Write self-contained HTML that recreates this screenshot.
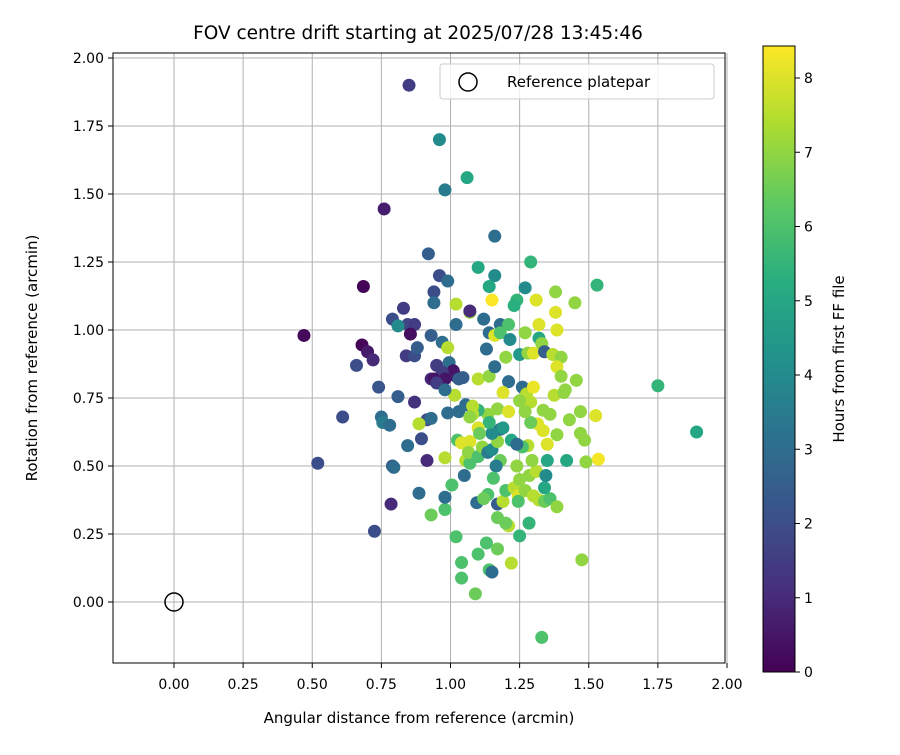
<!DOCTYPE html>
<html><head><meta charset="utf-8">
<style>
html,body{margin:0;padding:0;background:#fff;}
svg text{font-family:"DejaVu Sans","Liberation Sans",sans-serif;fill:#000;}
</style></head>
<body>
<svg id="chart" width="900" height="750" xmlns="http://www.w3.org/2000/svg">
<defs>
<linearGradient id="viridis" x1="0" y1="1" x2="0" y2="0">
<stop offset="0" stop-color="#440154"/><stop offset="0.125" stop-color="#472d7b"/>
<stop offset="0.25" stop-color="#3b528b"/><stop offset="0.375" stop-color="#2c728e"/>
<stop offset="0.5" stop-color="#21918c"/><stop offset="0.625" stop-color="#28ae80"/>
<stop offset="0.75" stop-color="#5ec962"/><stop offset="0.875" stop-color="#addc30"/>
<stop offset="1" stop-color="#fde725"/>
</linearGradient>
<clipPath id="plotclip"><rect x="113" y="53" width="612" height="610"/></clipPath>
</defs>
<text x="418" y="39" font-size="18.5" text-anchor="middle">FOV centre drift starting at 2025/07/28 13:45:46</text>
<g id="grid"></g>
<g id="points" clip-path="url(#plotclip)"></g>
<rect x="113" y="53" width="612" height="610" fill="none" stroke="#000" stroke-width="1"/>
<g id="xticks"></g>
<g id="yticks"></g>
<text x="419" y="723" font-size="15" text-anchor="middle">Angular distance from reference (arcmin)</text>
<text transform="translate(37,358) rotate(-90)" font-size="15" text-anchor="middle">Rotation from reference (arcmin)</text>
<g>
<rect x="440" y="64" width="274" height="35" rx="3" fill="#fff" fill-opacity="0.8" stroke="#ccc"/>
<circle cx="468" cy="82" r="9" fill="none" stroke="#000" stroke-width="1.5"/>
<text x="507" y="87" font-size="15">Reference platepar</text>
</g>
<g>
<rect x="763" y="46" width="32" height="626" fill="url(#viridis)" stroke="#000" stroke-width="1"/>
<g id="cticks"></g>
<text transform="translate(844,359) rotate(-90)" font-size="15" text-anchor="middle">Hours from first FF file</text>
</g>
</svg>
<script>
const xTicks=[0,0.25,0.5,0.75,1.0,1.25,1.5,1.75,2.0];
const xTickLabels=["0.00","0.25","0.50","0.75","1.00","1.25","1.50","1.75","2.00"];
const yTicks=[0,0.25,0.5,0.75,1.0,1.25,1.5,1.75,2.0];
const yTickLabels=["0.00","0.25","0.50","0.75","1.00","1.25","1.50","1.75","2.00"];
const cTicks=[0,1,2,3,4,5,6,7,8];
const refPoint=[0,0];
const xVals=[0.85,0.96,0.98,1.06,0.76,1.16,0.92,0.96,0.99,1.10,1.16,1.29,1.53,0.685,1.14,1.27,0.94,0.94,1.02,1.15,1.24,1.23,1.31,1.38,1.45,0.83,0.79,0.845,0.81,0.87,1.07,1.07,1.12,1.02,0.47,0.855,0.93,0.97,0.99,1.14,1.16,1.18,1.18,1.21,1.27,1.32,1.38,1.385,1.32,1.33,1.13,1.215,0.68,0.70,0.72,0.66,0.84,0.87,0.88,0.95,0.995,1.01,0.97,0.93,0.94,1.02,1.045,1.10,1.14,1.20,1.25,1.28,1.30,1.34,1.37,1.40,1.385,1.40,1.415,1.455,1.375,1.16,1.21,1.26,1.275,1.30,1.29,1.25,1.19,1.17,1.135,1.10,1.08,1.055,1.03,0.99,1.015,1.03,0.98,0.95,0.98,0.915,0.93,0.886,0.81,0.74,0.87,0.61,0.75,0.755,0.78,0.845,0.895,0.915,0.79,0.795,0.52,0.785,0.725,0.886,0.93,0.98,0.98,1.005,0.98,1.025,1.04,1.07,1.055,1.05,1.07,1.065,1.10,1.115,1.135,1.15,1.17,1.18,1.165,1.155,1.135,1.095,1.12,1.17,1.17,1.19,1.20,1.23,1.245,1.27,1.245,1.30,1.32,1.34,1.36,1.385,1.34,1.285,1.31,1.345,1.28,1.295,1.35,1.335,1.315,1.335,1.36,1.385,1.42,1.35,1.49,1.47,1.43,1.525,1.47,1.41,1.535,1.485,1.475,1.75,1.89,1.284,1.21,1.17,1.13,1.10,1.02,1.04,1.04,1.09,1.14,1.15,1.22,1.25,1.24,1.25,1.20,1.33,1.18,1.22,1.26,1.19,1.21,1.15,1.14,1.29,1.27,1.24,1.10,1.105,1.08,1.07];
const yVals=[1.90,1.70,1.515,1.56,1.445,1.345,1.28,1.20,1.18,1.23,1.20,1.25,1.165,1.16,1.16,1.155,1.14,1.10,1.095,1.11,1.11,1.09,1.11,1.14,1.10,1.08,1.04,1.02,1.015,1.02,1.065,1.07,1.04,1.02,0.98,0.985,0.98,0.955,0.935,0.99,0.98,1.02,0.99,1.02,0.99,1.02,1.065,1.0,0.97,0.95,0.93,0.965,0.945,0.92,0.89,0.87,0.905,0.905,0.935,0.87,0.88,0.85,0.845,0.82,0.82,0.83,0.825,0.82,0.83,0.90,0.91,0.915,0.915,0.92,0.91,0.90,0.865,0.83,0.78,0.815,0.76,0.865,0.81,0.79,0.765,0.79,0.735,0.74,0.77,0.71,0.69,0.705,0.69,0.725,0.70,0.695,0.76,0.82,0.82,0.805,0.78,0.67,0.675,0.655,0.755,0.79,0.735,0.68,0.68,0.66,0.65,0.575,0.60,0.52,0.50,0.495,0.51,0.36,0.26,0.40,0.32,0.34,0.385,0.43,0.53,0.595,0.585,0.59,0.52,0.465,0.51,0.55,0.535,0.57,0.55,0.56,0.59,0.52,0.50,0.455,0.395,0.365,0.38,0.36,0.31,0.37,0.41,0.42,0.39,0.41,0.37,0.39,0.375,0.37,0.38,0.35,0.42,0.465,0.48,0.465,0.575,0.52,0.58,0.63,0.655,0.705,0.69,0.615,0.52,0.52,0.515,0.62,0.67,0.685,0.70,0.77,0.525,0.595,0.155,0.795,0.625,0.29,0.28,0.195,0.217,0.176,0.24,0.145,0.088,0.03,0.118,0.11,0.143,0.243,0.50,0.45,0.29,-0.13,0.635,0.595,0.57,0.64,0.70,0.62,0.66,0.66,0.70,0.58,0.64,0.62,0.72,0.68];
const hours=[1.5,4,3.5,5,0.7,3,2.5,2,3,5,4,5.5,5.5,0.1,5,4,2,3,7.5,8.4,5.5,5.3,8,7,7,1.5,2,1.8,4,1.5,7,1,3,3,0.2,0.3,2.5,3,7.5,3,8,3,6,6,7,8,8,8,5,7,3,4,0.1,0.6,1,2,1.5,2,2.5,1.5,3,0.5,1.5,1,0.5,0.5,2.5,7.5,7,7,4.5,7,8,2.5,7.5,7,8,7,7,7,7.5,3,3,3,7.5,8.2,7.5,7,8,7,7,5.5,7.5,3,3,3,7.5,2.5,0.5,1.5,3,2,3,7.5,2.5,2.2,1.2,2,3,3.5,3,3,2,1,2.5,3,2,1,2,3,6.5,6,3,6,7.5,6,8,8,7.5,3,6,7,6,7,3.5,4,7,6.5,3.5,6,6,3,6.5,2.5,6.5,7.5,6,7.5,8,7,6,7.5,7.5,6.5,6,7,5,7,7.5,4,7.5,7,8,8,8,7,7,7,5,5,7,7,7,8,7,7,8.3,7,7,5.5,5,5.5,7.5,6.5,6,6,6,6,6,6.5,6,3,7.5,5.5,7,7,6.5,6,3,5,6,4.5,8,4,5.5,6.5,7,3,8,6.5,7.5,7,6.5,6];

const X0=174, XS=276.5, Y0=602, YS=272, CB0=672, CBS=74.25;
const xs=v=>X0+v*XS, ys=v=>Y0-v*YS, cs=v=>CB0-v*CBS;
const VIR=[[68,1,84],[71,45,123],[59,82,139],[44,114,142],[33,145,140],[40,174,128],[94,201,98],[173,220,48],[253,231,37]];
function viridis(t){if(!(t>=0))t=0;t=Math.min(1,t);const p=t*8,i=Math.min(7,Math.floor(p)),f=p-i;const a=VIR[i],b=VIR[i+1];
return 'rgb('+a.map((c,k)=>Math.round(c+(b[k]-c)*f)).join(',')+')';}
const NS='http://www.w3.org/2000/svg';
function mk(tag,attrs,parent,txt){const e=document.createElementNS(NS,tag);for(const k in attrs)e.setAttribute(k,attrs[k]);if(txt!==undefined)e.textContent=txt;parent.appendChild(e);return e;}
const grid=document.getElementById('grid'),xt=document.getElementById('xticks'),yt=document.getElementById('yticks'),pts=document.getElementById('points'),ct=document.getElementById('cticks');
xTicks.forEach((v,i)=>{
 const g=mk('line',{x1:xs(v),x2:xs(v),y1:53,y2:663,stroke:'#b0b0b0','stroke-width':1},grid);
 
 
 const t=mk('line',{x1:xs(v),x2:xs(v),y1:663,y2:668,stroke:'#000'},xt);
 
 
 const l=mk('text',{x:xs(v),y:689,'font-size':14,'text-anchor':'middle'},xt,xTickLabels[i]);
 
 
});
yTicks.forEach((v,i)=>{
 const g=mk('line',{x1:113,x2:725,y1:ys(v),y2:ys(v),stroke:'#b0b0b0','stroke-width':1},grid);
 
 
 const t=mk('line',{x1:108,x2:113,y1:ys(v),y2:ys(v),stroke:'#000'},yt);
 
 
 const l=mk('text',{x:104,y:ys(v)+5,'font-size':14,'text-anchor':'end'},yt,yTickLabels[i]);
 
 
});
xVals.forEach((x,i)=>{
 const h=(hours[i]===undefined)?6:hours[i];
 const c=mk('circle',{cx:xs(x),cy:ys(yVals[i]),r:6.5,fill:viridis(h/8.43)},pts);
 
 
});
const ref=mk('circle',{cx:xs(refPoint[0]),cy:ys(refPoint[1]),r:9,fill:'none',stroke:'#000','stroke-width':1.5},pts);


cTicks.forEach(v=>{
 const t=mk('line',{x1:795,x2:800,y1:cs(v),y2:cs(v),stroke:'#000'},ct);
 
 
 const l=mk('text',{x:804,y:cs(v)+5,'font-size':14},ct,String(v));
 
 
});
</script>
</body></html>
